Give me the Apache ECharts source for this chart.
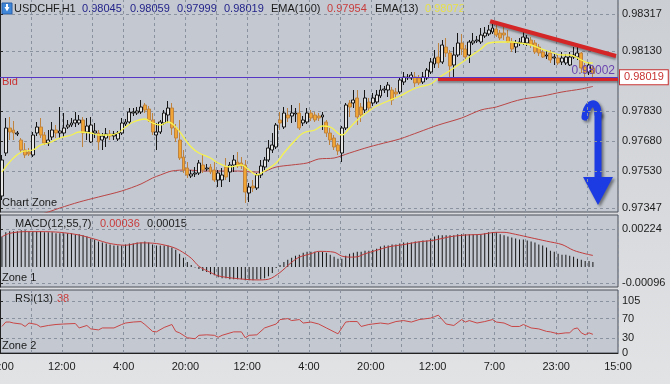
<!DOCTYPE html>
<html><head><meta charset="utf-8">
<script src="https://cdn.jsdelivr.net/npm/echarts@6/dist/echarts.min.js"></script>
<style>html,body{margin:0;padding:0;background:linear-gradient(#cbced3,#e2e3e5);}#c{width:670px;height:384px;}</style>
</head><body><div id="c"></div><script>
// ---------- data ----------
const slotCount = 160;
const timeLabels = ['20:00','12:00','4:00','20:00','12:00','4:00','20:00','12:00','7:00','23:00','15:00'];
// [open, close, low, high]
const ohlc = [
[0.97406,0.97586,0.97386,0.97611],[0.97621,0.97746,0.97606,0.97796],[0.97746,0.97726,0.97686,0.97801],[0.97736,0.97721,0.97686,0.97781],
[0.97716,0.97721,0.97706,0.97731],[0.97686,0.97636,0.97626,0.97696],[0.97636,0.97611,0.97596,0.97671],[0.97626,0.97616,0.97606,0.97646],
[0.97611,0.97711,0.97601,0.97726],[0.97721,0.97751,0.97706,0.97776],[0.97751,0.97711,0.97696,0.97796],[0.97711,0.97671,0.97661,0.97726],
[0.97671,0.97686,0.97656,0.97736],[0.97701,0.97736,0.97686,0.97776],[0.97736,0.97721,0.97696,0.97761],[0.97721,0.97731,0.97696,0.97851],
[0.97721,0.97746,0.97701,0.97821],[0.97751,0.97761,0.97741,0.97786],[0.97761,0.97771,0.97751,0.97796],[0.97771,0.97786,0.97751,0.97826],
[0.97771,0.97786,0.97761,0.97811],[0.97786,0.97721,0.97651,0.97801],[0.97726,0.97756,0.97686,0.97796],[0.97676,0.97761,0.97671,0.97801],
[0.97721,0.97731,0.97696,0.97771],[0.97721,0.97676,0.97636,0.97736],[0.97686,0.97706,0.97636,0.97721],[0.97696,0.97716,0.97651,0.97746],
[0.97716,0.97706,0.97686,0.97736],[0.97706,0.97716,0.97686,0.97731],[0.97691,0.97721,0.97681,0.97731],[0.97721,0.97771,0.97711,0.97796],
[0.97766,0.97776,0.97756,0.97791],[0.97776,0.97826,0.97766,0.97846],[0.97821,0.97826,0.97806,0.97846],[0.97821,0.97831,0.97811,0.97851],
[0.97826,0.97851,0.97816,0.97886],[0.97861,0.97836,0.97821,0.97871],[0.97841,0.97786,0.97776,0.97856],[0.97786,0.97726,0.97711,0.97821],
[0.97711,0.97726,0.97636,0.97771],[0.97726,0.97776,0.97716,0.97786],[0.97771,0.97821,0.97761,0.97836],[0.97811,0.97846,0.97771,0.97881],
[0.97846,0.97746,0.97711,0.97871],[0.97746,0.97696,0.97676,0.97766],[0.97686,0.97596,0.97586,0.97786],[0.97601,0.97536,0.97521,0.97636],
[0.97546,0.97511,0.97496,0.97576],[0.97506,0.97516,0.97496,0.97536],[0.97516,0.97521,0.97501,0.97551],[0.97521,0.97571,0.97511,0.97586],
[0.97561,0.97536,0.97521,0.97611],[0.97541,0.97546,0.97531,0.97566],[0.97551,0.97526,0.97516,0.97566],[0.97536,0.97486,0.97476,0.97576],
[0.97486,0.97521,0.97451,0.97536],[0.97486,0.97511,0.97451,0.97546],[0.97551,0.97501,0.97486,0.97596],[0.97526,0.97561,0.97476,0.97576],
[0.97561,0.97586,0.97526,0.97611],[0.97576,0.97556,0.97546,0.97626],[0.97571,0.97556,0.97541,0.97601],[0.97561,0.97426,0.97371,0.97586],
[0.97421,0.97451,0.97376,0.97471],[0.97456,0.97446,0.97426,0.97486],[0.97446,0.97511,0.97436,0.97521],[0.97511,0.97556,0.97496,0.97586],
[0.97551,0.97586,0.97536,0.97601],[0.97586,0.97646,0.97576,0.97686],[0.97636,0.97661,0.97621,0.97721],[0.97651,0.97761,0.97641,0.97771],
[0.97786,0.97771,0.97736,0.97826],[0.97751,0.97821,0.97741,0.97851],[0.97811,0.97796,0.97776,0.97846],[0.97806,0.97821,0.97771,0.97861],
[0.97816,0.97821,0.97776,0.97846],[0.97821,0.97746,0.97736,0.97871],[0.97771,0.97786,0.97756,0.97806],[0.97776,0.97821,0.97766,0.97846],
[0.97821,0.97796,0.97781,0.97836],[0.97811,0.97786,0.97776,0.97826],[0.97806,0.97796,0.97781,0.97821],[0.97801,0.97811,0.97736,0.97826],
[0.97776,0.97721,0.97701,0.97786],[0.97721,0.97686,0.97661,0.97746],[0.97696,0.97651,0.97636,0.97711],[0.97661,0.97631,0.97611,0.97671],
[0.97621,0.97746,0.97576,0.97756],[0.97746,0.97861,0.97736,0.97871],[0.97871,0.97851,0.97801,0.97886],[0.97871,0.97886,0.97846,0.97936],
[0.97896,0.97801,0.97761,0.97936],[0.97851,0.97811,0.97776,0.97871],[0.97836,0.97896,0.97821,0.97936],[0.97876,0.97846,0.97826,0.97896],
[0.97871,0.97896,0.97856,0.97921],[0.97876,0.97911,0.97866,0.97936],[0.97906,0.97936,0.97896,0.97961],[0.97936,0.97941,0.97921,0.97956],
[0.97936,0.97961,0.97901,0.97976],[0.97936,0.97886,0.97861,0.97951],[0.97926,0.97916,0.97896,0.97946],[0.97926,0.97986,0.97916,0.98001],
[0.97976,0.98001,0.97961,0.98026],[0.97996,0.98001,0.97986,0.98016],[0.97996,0.98011,0.97986,0.98026],[0.98001,0.97971,0.97951,0.98026],
[0.97996,0.97971,0.97961,0.98011],[0.97976,0.98001,0.97966,0.98026],[0.97996,0.98036,0.97986,0.98046],[0.98026,0.98076,0.98016,0.98096],
[0.98066,0.98096,0.98046,0.98136],[0.98101,0.98071,0.98046,0.98171],[0.98076,0.98161,0.98066,0.98186],[0.98151,0.98121,0.98101,0.98196],
[0.98121,0.98056,0.97996,0.98136],[0.98061,0.98111,0.97996,0.98151],[0.98111,0.98171,0.98101,0.98221],[0.98171,0.98141,0.98111,0.98216],
[0.98141,0.98101,0.98091,0.98161],[0.98111,0.98176,0.98071,0.98186],[0.98171,0.98181,0.98161,0.98221],[0.98181,0.98186,0.98171,0.98206],
[0.98176,0.98211,0.98166,0.98246],[0.98206,0.98221,0.98196,0.98251],[0.98216,0.98236,0.98206,0.98261],[0.98226,0.98246,0.98216,0.98286],
[0.98241,0.98211,0.98201,0.98271],[0.98221,0.98196,0.98186,0.98236],[0.98221,0.98211,0.98186,0.98251],[0.98201,0.98176,0.98171,0.98236],
[0.98176,0.98141,0.98126,0.98196],[0.98151,0.98171,0.98121,0.98186],[0.98171,0.98176,0.98156,0.98196],[0.98171,0.98201,0.98161,0.98226],
[0.98171,0.98196,0.98156,0.98211],[0.98186,0.98161,0.98146,0.98201],[0.98171,0.98126,0.98116,0.98186],[0.98151,0.98121,0.98106,0.98166],
[0.98126,0.98101,0.98096,0.98141],[0.98106,0.98111,0.98091,0.98131],[0.98121,0.98086,0.98071,0.98136],[0.98096,0.98101,0.98061,0.98116],
[0.98096,0.98071,0.98061,0.98111],[0.98076,0.98096,0.98061,0.98126],[0.98071,0.98101,0.98061,0.98116],[0.98061,0.98101,0.98056,0.98126],
[0.98101,0.98111,0.98091,0.98151],[0.98101,0.98121,0.98086,0.98151],[0.98121,0.98046,0.98021,0.98126],[0.98051,0.98026,0.98001,0.98071],
[0.98026,0.98061,0.98011,0.98076],[0.98045,0.98019,0.97999,0.98059]
];
// [bar index, value]
const ema13 = [[0,0.97526],[5,0.97626],[8,0.97636],[10,0.97661],[12,0.97671],[15,0.97696],[18,0.97711],[20,0.97726],[23,0.97721],[25,0.97711],[28,0.97711],[30,0.97721],[32,0.97751],[34,0.97776],[37,0.97791],[39,0.97771],[41,0.97761],[43,0.97776],[45,0.97751],[47,0.97701],[49,0.97651],[51,0.97621],[54,0.97596],[56,0.97571],[59,0.97551],[62,0.97561],[64,0.97536],[66,0.97511],[68,0.97531],[71,0.97571],[73,0.97621],[76,0.97686],[78,0.97721],[81,0.97736],[83,0.97756],[85,0.97751],[88,0.97711],[90,0.97746],[92,0.97786],[95,0.97831],[97,0.97856],[100,0.97881],[103,0.97906],[106,0.97936],[108,0.97951],[111,0.97966],[113,0.97996],[115,0.98021],[117,0.98046],[120,0.98086],[121,0.98101],[124,0.98141],[126,0.98171],[129,0.98176],[132,0.98176],[134,0.98171],[137,0.98161],[139,0.98146],[142,0.98126],[145,0.98111],[147,0.98111],[150,0.98086],[152,0.98071],[153,0.98072]];
const ema100 = [[0,0.97256],[12,0.97326],[15,0.97346],[20,0.97376],[25,0.97401],[31,0.97431],[36,0.97466],[39,0.97496],[41,0.97511],[44,0.97531],[48,0.97536],[52,0.97531],[57,0.97531],[61,0.97531],[65,0.97526],[67,0.97526],[71,0.97551],[75,0.97561],[79,0.97571],[82,0.97591],[86,0.97596],[90,0.97621],[95,0.97651],[100,0.97676],[103,0.97691],[108,0.97726],[113,0.97761],[119,0.97796],[124,0.97836],[128,0.97851],[132,0.97876],[135,0.97891],[140,0.97906],[145,0.97926],[150,0.97941],[153,0.97954]];
const macdHist = [0.0018,0.00204,0.0021,0.0021,0.0021,0.00216,0.00216,0.0021,0.0021,0.0021,0.0021,0.00204,0.00204,0.00204,0.00198,0.00198,0.00198,0.00198,0.00198,0.00192,0.00192,0.00186,0.0018,0.00168,0.00162,0.0015,0.00144,0.00138,0.00132,0.00126,0.00126,0.00126,0.00132,0.00138,0.00138,0.00144,0.00144,0.0015,0.00144,0.00132,0.00126,0.00126,0.00126,0.00126,0.00114,0.00102,0.00078,0.00054,0.0003,0.00012,-0.00003,-0.00012,-0.00024,-0.0003,-0.00042,-0.00048,-0.0006,-0.00066,-0.00066,-0.00072,-0.00072,-0.00072,-0.00072,-0.00078,-0.00078,-0.00078,-0.00072,-0.00072,-0.00066,-0.00054,-0.00036,-0.00006,0.00012,0.0003,0.00042,0.00054,0.00066,0.00072,0.00084,0.0009,0.0009,0.0009,0.0009,0.0009,0.00084,0.00072,0.0006,0.00048,0.00048,0.00066,0.00078,0.00084,0.0009,0.0009,0.00096,0.00096,0.00102,0.00108,0.0012,0.00126,0.00126,0.00132,0.00132,0.00138,0.00144,0.00144,0.00144,0.0015,0.0015,0.00156,0.00156,0.00168,0.0018,0.00186,0.00186,0.00186,0.00186,0.00186,0.00192,0.00192,0.00192,0.00192,0.00192,0.00192,0.00192,0.00198,0.00204,0.00204,0.00204,0.00192,0.00186,0.0018,0.00174,0.00168,0.00162,0.00162,0.00156,0.0015,0.00144,0.00132,0.00126,0.00114,0.00096,0.0009,0.00078,0.00072,0.00072,0.00066,0.0006,0.00048,0.00042,0.00036,0.00036,0.0003];
const macdSignal = [[0,0.00178],[2,0.00198],[6,0.00208],[10,0.00208],[15,0.00204],[20,0.00188],[24,0.00164],[28,0.00138],[32,0.00128],[36,0.00142],[40,0.00138],[44,0.00118],[46,0.00098],[49,0.00052],[51,0.00004],[54,-0.00032],[56,-0.00052],[60,-0.00066],[66,-0.00076],[69,-0.00072],[72,-0.00032],[75,0.00028],[77,0.00058],[80,0.00078],[82,0.00092],[86,0.00087],[88,0.00064],[90,0.00058],[92,0.0006],[94,0.00078],[97,0.00098],[100,0.00118],[104,0.00132],[108,0.00148],[112,0.00158],[116,0.00178],[120,0.00188],[124,0.00192],[128,0.00204],[130,0.00204],[133,0.00192],[137,0.00172],[141,0.00152],[145,0.00132],[148,0.00098],[151,0.00078],[153,0.00068]];
const rsi = [[0,54],[1,63],[2,63],[3,61],[5,59],[6,54],[7,61],[9,58],[10,53],[12,56],[14,58],[16,59],[19,60],[20,51],[22,56],[23,49],[25,47],[26,51],[29,51],[31,58],[32,61],[34,63],[36,64],[37,58],[39,44],[40,43],[42,52],[44,58],[45,44],[46,41],[48,31],[50,29],[51,36],[53,37],[55,36],[56,32],[57,36],[60,43],[62,43],[63,31],[64,36],[66,37],[68,51],[71,59],[72,68],[74,70],[75,66],[77,68],[78,61],[80,63],[82,59],[84,51],[86,43],[87,39],[89,63],[90,64],[92,64],[93,54],[95,58],[96,59],[98,61],[100,59],[102,64],[104,66],[106,63],[108,68],[111,71],[112,74],[113,77],[115,59],[117,56],[119,68],[120,63],[121,66],[123,61],[125,64],[127,68],[128,63],[130,61],[132,54],[134,54],[135,58],[137,51],[139,49],[141,44],[142,43],[144,39],[146,41],[147,41],[148,49],[149,51],[150,41],[151,37],[152,41],[153,38]];
const priceTicks = [0.97347,0.9753,0.9768,0.9783,0.9813,0.98317];
const priceLabels = [0.97347,0.9753,0.9768,0.9783,0.9813,0.98317];
const macdTicks = [-0.00096,0.00224];
const rsiTicks = [0,30,70,105];
const bidPrice = 0.98019;
const levelPrice = 0.98002;
// hand-drawn trend lines, x in bar units
const resistanceLine = [[126.9,0.9828],[159.5,0.98106]];
const supportLine = [[113.4,0.97991],[160,0.97991]];

// ---------- chart ----------
const FONT = '"Liberation Sans", Arial, sans-serif';
const categories = Array.from({length: slotCount}, (_, i) => String(i));
const chart = echarts.init(document.getElementById('c'), null, {renderer: 'canvas'});
const gridStyle = {show: true, backgroundColor: '#c4c9d1', borderColor: '#4c5158', borderWidth: 1, left: 0, right: 52,
  containLabel: false, outerBoundsMode: 'none'};
const dash = {type: [3, 3], color: '#8a929f', width: 1};
const yCommon = {
  type: 'value', position: 'right', scale: false,
  axisLine: {show: true, lineStyle: {color: '#222', width: 1}},
  axisTick: {show: true, length: 3, lineStyle: {color: '#222'}},
  axisLabel: {color: '#1c1c1c', fontSize: 11, fontFamily: FONT, margin: 4},
  splitLine: {show: true, lineStyle: dash}
};
const catAxis = g => ({type: 'category', gridIndex: g, data: categories, show: false, position: 'top', boundaryGap: true});
const valX = g => ({
  type: 'value', gridIndex: g, position: 'bottom', min: 0, max: slotCount, interval: 8,
  axisLine: {show: g === 2, onZero: false, lineStyle: {color: '#222'}},
  axisTick: {show: false},
  axisLabel: {show: g === 2, color: '#1c1c1c', fontSize: 11, fontFamily: FONT, margin: 8,
    formatter: v => (v % 16 === 0 ? timeLabels[v / 16] : '')},
  splitLine: {show: true, lineStyle: dash}
});

const hdr = (text, x, y, fill) => ({type: 'text', x, y, silent: true,
  style: {text, fill, font: '11px ' + FONT, verticalAlign: 'middle'}});

const option = {
  animation: false,
  backgroundColor: 'transparent',
  grid: [
    Object.assign({top: -1, height: 213}, gridStyle),
    Object.assign({top: 215, height: 72}, gridStyle),
    Object.assign({top: 290, height: 63}, gridStyle)
  ],
  xAxis: [catAxis(0), catAxis(1), catAxis(2), valX(0), valX(1), valX(2)],
  yAxis: [
    Object.assign({}, yCommon, {gridIndex: 0, min: 0.97326, max: 0.98391,
      axisTick: Object.assign({}, yCommon.axisTick, {customValues: priceTicks}),
      axisLabel: Object.assign({}, yCommon.axisLabel, {customValues: priceLabels, formatter: v => v.toFixed(5)})}),
    Object.assign({}, yCommon, {gridIndex: 1, min: -0.001176, max: 0.003058,
      axisTick: Object.assign({}, yCommon.axisTick, {customValues: macdTicks}),
      axisLabel: Object.assign({}, yCommon.axisLabel, {customValues: macdTicks, formatter: v => v.toFixed(5)})}),
    Object.assign({}, yCommon, {gridIndex: 2, min: 0, max: 128.2,
      axisTick: Object.assign({}, yCommon.axisTick, {customValues: rsiTicks}),
      axisLabel: Object.assign({}, yCommon.axisLabel, {customValues: rsiTicks, formatter: v => String(v)})})
  ],
  series: [
    {type: 'line', name: 'EMA100', xAxisIndex: 0, yAxisIndex: 0, data: ema100, showSymbol: false, smooth: 0.3,
      lineStyle: {color: '#b94545', width: 1}, z: 1},
    {type: 'candlestick', xAxisIndex: 0, yAxisIndex: 0, data: ohlc, barWidth: 3.4,
      itemStyle: {color: '#e6e6e6', color0: '#f0a534', borderColor: '#161616', borderColor0: '#bf8340', borderWidth: 1},
      markLine: {silent: true, symbol: ['none', 'none'], animation: false,
        data: [
          {yAxis: bidPrice, lineStyle: {color: '#d04848', width: 1, type: 'solid'},
            label: {show: true, position: 'end', distance: 2, formatter: bidPrice.toFixed(5), color: '#c83232',
              fontSize: 11, fontFamily: FONT, backgroundColor: '#ffffff', borderColor: '#c83232', borderWidth: 1, padding: [2, 4, 1, 4]}},
          {yAxis: levelPrice, lineStyle: {color: '#5636c4', width: 1, type: 'solid'},
            label: {show: true, position: 'insideEndTop', distance: [3, 1], formatter: levelPrice.toFixed(5), color: '#6b45b0', fontSize: 12, fontFamily: FONT}}
        ]}, z: 2},
    {type: 'line', name: 'EMA13', xAxisIndex: 0, yAxisIndex: 0, data: ema13, showSymbol: false, smooth: 0.4,
      lineStyle: {color: '#f6f34e', width: 1.3}, z: 3},
    {type: 'line', xAxisIndex: 3, yAxisIndex: 0, data: resistanceLine, showSymbol: false,
      lineStyle: {color: '#d42626', width: 4, shadowColor: 'rgba(0,0,0,0.35)', shadowBlur: 2, shadowOffsetY: 2}, z: 4},
    {type: 'line', xAxisIndex: 3, yAxisIndex: 0, data: supportLine, showSymbol: false,
      lineStyle: {color: '#d42626', width: 4, shadowColor: 'rgba(0,0,0,0.35)', shadowBlur: 2, shadowOffsetY: 2}, z: 4},
    {type: 'bar', xAxisIndex: 1, yAxisIndex: 1, data: macdHist, barWidth: 1, itemStyle: {color: '#151515'}},
    {type: 'line', xAxisIndex: 1, yAxisIndex: 1, data: macdSignal, showSymbol: false, smooth: 0.3,
      lineStyle: {color: '#c23c3c', width: 1}, z: 3},
    {type: 'line', xAxisIndex: 2, yAxisIndex: 2, data: rsi, showSymbol: false,
      lineStyle: {color: '#c84646', width: 1}, z: 3}
  ],
  graphic: [
    {type: 'rect', shape: {x: 2, y: 3, width: 10, height: 11}, style: {fill: '#3d86d8', stroke: '#2a5fa8'}, silent: true},
    {type: 'polygon', shape: {points: [[4.5, 7], [9.5, 7], [7, 11.5]]}, style: {fill: '#ffffff'}, silent: true},
    {type: 'rect', shape: {x: 6, y: 4, width: 2, height: 3}, style: {fill: '#ffffff'}, silent: true},
    hdr('USDCHF,H1', 14, 9, '#1a1a1a'),
    hdr('0.98045', 82, 9, '#23238a'),
    hdr('0.98059', 130, 9, '#23238a'),
    hdr('0.97999', 177, 9, '#23238a'),
    hdr('0.98019', 224, 9, '#23238a'),
    hdr('EMA(100)', 271, 9, '#1a1a1a'),
    hdr('0.97954', 327, 9, '#c83c3c'),
    hdr('EMA(13)', 375, 9, '#1a1a1a'),
    hdr('0.98072', 425, 9, '#e6e04a'),
    hdr('Bid', 2, 82, '#c83232'),
    hdr('Chart Zone', 2, 203, '#1a1a1a'),
    hdr('MACD(12,55,7)', 15, 224, '#1a1a1a'),
    hdr('0.00036', 100, 224, '#c83c3c'),
    hdr('0.00015', 147, 224, '#1a1a1a'),
    hdr('Zone 1', 2, 278, '#1a1a1a'),
    hdr('RSI(13)', 15, 299, '#1a1a1a'),
    hdr('38', 57, 299, '#c83c3c'),
    hdr('Zone 2', 2, 346, '#1a1a1a'),
    {type: 'group', silent: true, children: [
      {type: 'bezierCurve', shape: {x1: 585, y1: 117, cpx1: 587, cpy1: 101, cpx2: 598, cpy2: 99, x2: 598, y2: 114},
        style: {stroke: '#1d3be3', lineWidth: 7, fill: null, lineCap: 'round', shadowColor: 'rgba(0,0,0,0.45)', shadowBlur: 3, shadowOffsetX: 2, shadowOffsetY: 2}},
      {type: 'line', shape: {x1: 598, y1: 112, x2: 598, y2: 180},
        style: {stroke: '#1d3be3', lineWidth: 7, shadowColor: 'rgba(0,0,0,0.45)', shadowBlur: 3, shadowOffsetX: 2, shadowOffsetY: 2}},
      {type: 'polygon', shape: {points: [[583, 177], [613, 177], [598, 205]]},
        style: {fill: '#1d3be3', shadowColor: 'rgba(0,0,0,0.45)', shadowBlur: 3, shadowOffsetX: 2, shadowOffsetY: 2}}
    ]}
  ]
};
chart.setOption(option);
</script></body></html>
